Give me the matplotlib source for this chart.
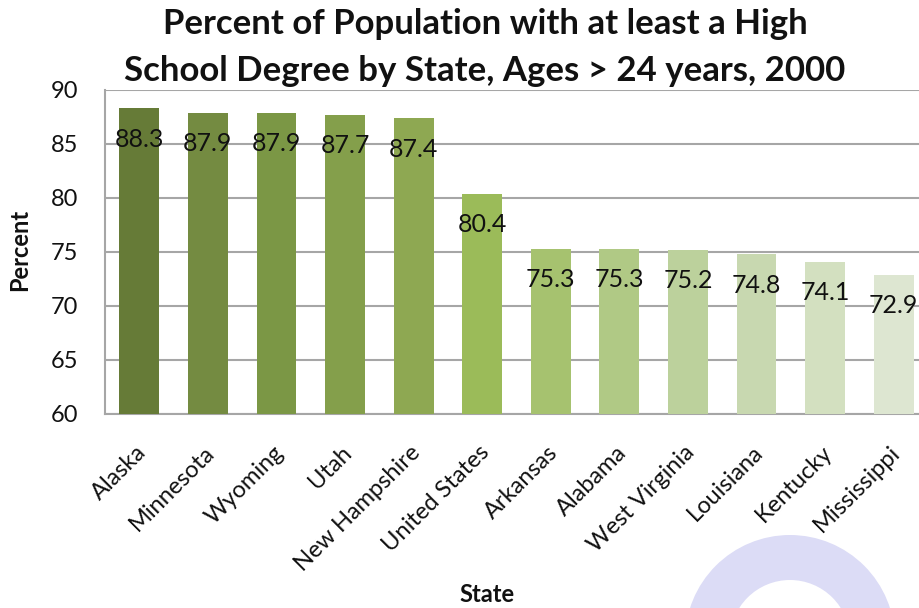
import numpy as np
import matplotlib.pyplot as plt
import matplotlib.transforms as mtransforms
from matplotlib.patches import Wedge

plt.rcParams['font.family'] = ['Lato', 'DejaVu Sans']

states = ['Alaska', 'Minnesota', 'Wyoming', 'Utah', 'New Hampshire', 'United States',
          'Arkansas', 'Alabama', 'West Virginia', 'Louisiana', 'Kentucky', 'Mississippi']
percent = [88.3, 87.9, 87.9, 87.7, 87.4, 80.4, 75.3, 75.3, 75.2, 74.8, 74.1, 72.9]
bar_colors = ['#667b37', '#748b41', '#7b9745', '#849f4b', '#8ea852', '#9bbb59',
              '#a6c26f', '#b0c985', '#bcd19c', '#c8d8b0', '#d3e0c0', '#dde6d1']
yticks = [60, 65, 70, 75, 80, 85, 90]

fig = plt.figure(figsize=(9.19, 6.08), dpi=100)

# watermark-like ring in the lower right corner (pixel coords)
ring = Wedge((790, -32), 105, 0, 180, width=45,
             transform=mtransforms.IdentityTransform(),
             facecolor='#dcdcf6', edgecolor='none', zorder=0)
fig.patches.append(ring)

ax = fig.add_axes([105 / 919, 194 / 608, 823 / 919, 324 / 608])
ax.patch.set_alpha(0)

x = np.arange(len(states))
ax.bar(x, percent, width=0.58, color=bar_colors, zorder=3)

for xi, v in zip(x, percent):
    ax.annotate('{:.1f}'.format(v), (xi, v), xytext=(0, -31), textcoords='offset pixels',
                ha='center', va='center', fontsize=18, color='#111111', zorder=4)

ax.set_xlim(-0.5, len(states) - 0.5)
ax.set_ylim(60, 90)
ax.set_yticks(yticks)
ax.yaxis.grid(True, color='#a6a6a6', linewidth=1.5, zorder=0)
ax.set_axisbelow(True)
for side in ['top', 'right']:
    ax.spines[side].set_visible(False)
for side in ['left', 'bottom']:
    ax.spines[side].set_color('#a6a6a6')
    ax.spines[side].set_linewidth(1.5)
ax.tick_params(axis='both', length=0, colors='#111111')
ax.tick_params(axis='y', pad=19, labelsize=17)
ax.tick_params(axis='x', pad=20)

ax.set_xticks(x)
ax.set_xticklabels(states, rotation=45, ha='right', rotation_mode='anchor', fontsize=17)
shift = mtransforms.ScaledTranslation(-4 / 100, 0, fig.dpi_scale_trans)
for lab in ax.get_xticklabels():
    lab.set_transform(lab.get_transform() + shift)

fig.text(20 / 919, 1 - 250 / 608, 'Percent', rotation=90, ha='center', va='center',
         fontsize=17, fontweight='bold', color='#111111')
fig.text(487 / 919, 1 - 595 / 608, 'State', ha='center', va='center',
         fontsize=17, fontweight='bold', color='#111111')
fig.text(485 / 919, 1 - 24 / 608, 'Percent of Population with at least a High',
         ha='center', va='center', fontsize=25, fontweight='bold', color='#111111')
fig.text(485 / 919, 1 - 71 / 608, 'School Degree by State, Ages > 24 years, 2000',
         ha='center', va='center', fontsize=25, fontweight='bold', color='#111111')

fig.savefig('out.png', dpi=100)
